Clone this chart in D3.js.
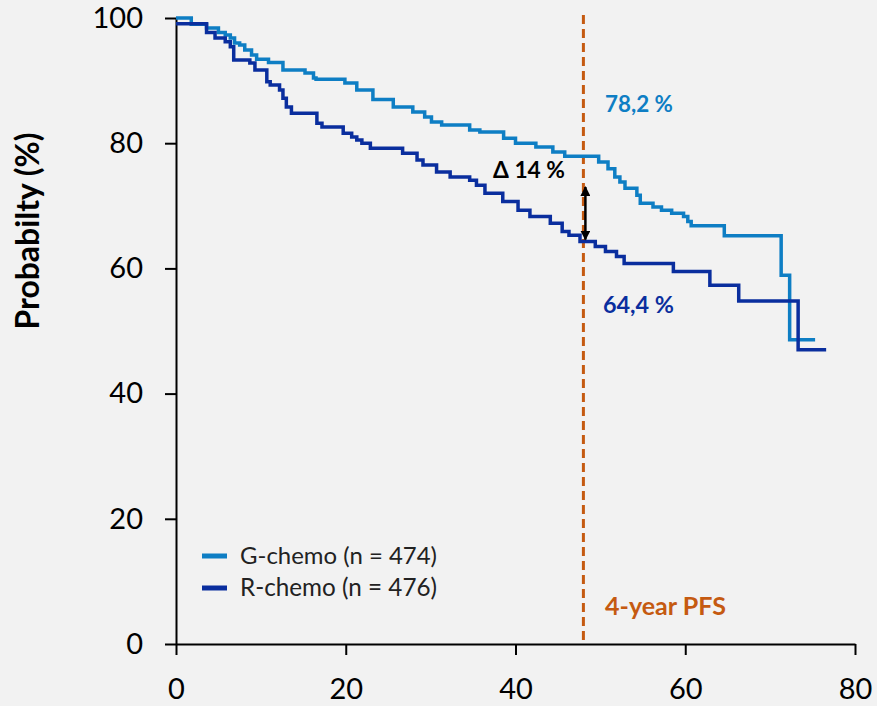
<!DOCTYPE html>
<html>
<head>
<meta charset="utf-8">
<script src="https://cdn.jsdelivr.net/npm/d3@7"></script>
<style>
  html, body { margin: 0; padding: 0; background: #F2F2F2; }
  svg { display: block; }
</style>
</head>
<body>
<script>
// ---- data ----
const gTime = [0, 1.8, 3.6, 5.0, 5.8, 6.4, 6.9, 7.5, 8.1, 8.9, 9.5, 10.9, 12.6, 15.2, 16.2, 16.5, 19.9, 21.3, 23.2, 25.6, 27.9, 29.3, 30.1, 31.3, 34.6, 35.8, 38.6, 40.0, 42.4, 44.4, 45.8, 49.8, 50.9, 51.7, 52.3, 52.9, 54.3, 54.7, 56.2, 57.2, 58.4, 59.8, 60.3, 60.7, 64.6, 71.3, 72.3, 75.3];
const gSurv = [100, 99.0, 98.4, 97.7, 97.3, 96.8, 96.0, 95.7, 94.9, 94.1, 93.4, 92.9, 91.7, 91.2, 90.4, 90.2, 89.6, 88.5, 87.0, 85.8, 85.0, 84.2, 83.4, 82.9, 82.1, 81.8, 80.8, 80.0, 79.4, 78.6, 77.9, 77.0, 75.9, 74.6, 73.8, 72.8, 71.7, 70.4, 69.8, 69.3, 68.8, 68.3, 67.5, 66.8, 65.2, 58.9, 48.6, 48.6];

const rTime = [0, 3.6, 4.6, 5.8, 6.4, 6.8, 8.7, 9.3, 10.7, 11.1, 12.2, 12.6, 13.0, 13.6, 16.6, 17.2, 19.7, 20.7, 21.3, 21.9, 22.9, 26.7, 28.4, 29.1, 30.7, 32.3, 34.6, 35.4, 36.4, 38.5, 40.3, 41.7, 44.1, 45.5, 46.3, 47.6, 49.4, 50.6, 51.9, 52.8, 58.6, 62.9, 66.3, 73.3, 76.6];
const rSurv = [99.1, 97.7, 96.8, 96.2, 95.4, 93.3, 92.8, 91.7, 89.8, 89.3, 88.5, 87.2, 85.8, 84.8, 83.2, 82.6, 81.6, 81.0, 80.5, 80.0, 79.2, 78.4, 77.3, 76.5, 75.4, 74.6, 74.1, 73.3, 72.0, 70.7, 69.3, 68.3, 67.2, 65.9, 65.3, 64.3, 63.5, 62.7, 61.9, 60.8, 59.5, 57.3, 54.8, 47.0, 47.0];

const seriesNames = ["G-chemo (n = 474)", "R-chemo (n = 476)"];
const xTicks = [0, 20, 40, 60, 80];
const yTicks = [0, 20, 40, 60, 80, 100];
const landmark = 48;               // months (4-year PFS)
const deltaLabel = "\u0394 14 %";
const gLabel = "78,2 %", rLabel = "64,4 %";
const pfsLabel = "4-year PFS";
const yTitle = "Probabilty (%)";

// ---- styles ----
const W = 877, H = 706;
const colG = "#0E7EC4", colR = "#0A2E9E", colOrange = "#C55A11";
const font = "Lato, 'Open Sans', sans-serif";

const svg = d3.select("body").append("svg").attr("width", W).attr("height", H)
  .style("background", "#F2F2F2");

svg.append("defs").append("marker")
  .attr("id", "ah").attr("viewBox", "0 0 10 10").attr("refX", 9).attr("refY", 5)
  .attr("markerWidth", 4).attr("markerHeight", 4).attr("orient", "auto-start-reverse")
  .append("path").attr("d", "M0,0 L10,5 L0,10 z").attr("fill", "#000");

const x = d3.scaleLinear().domain([0, 80]).range([176, 855]);
const y = d3.scaleLinear().domain([0, 100]).range([644, 18]);

function fitWidth(sel, w) {
  const cur = sel.node().getComputedTextLength();
  const fs = parseFloat(sel.attr("font-size"));
  if (cur > 0) sel.attr("font-size", (fs * w / cur).toFixed(2));
  return sel;
}

// axes
const yAxis = d3.axisLeft(y).tickValues(yTicks).tickSize(11).tickSizeOuter(0).tickPadding(22);
const xAxis = d3.axisBottom(x).tickValues(xTicks).tickSize(11).tickSizeOuter(0).tickPadding(23);

const gy = svg.append("g").attr("transform", `translate(${x(0)},0)`).call(yAxis);
const gx = svg.append("g").attr("transform", `translate(0,${y(0)})`).call(xAxis);
[gx, gy].forEach(g => {
  g.select(".domain").attr("stroke", "#000").attr("stroke-width", 2);
  g.selectAll(".tick line").attr("stroke", "#000").attr("stroke-width", 2);
  g.selectAll(".tick text").attr("fill", "#000").attr("font-family", font).attr("font-size", 29);
});

// landmark dashed line
svg.append("line")
  .attr("x1", x(landmark)).attr("x2", x(landmark))
  .attr("y1", y(100) - 3).attr("y2", y(0) - 3)
  .attr("stroke", colOrange).attr("stroke-width", 3).attr("stroke-dasharray", "9,5");

// curves
const line = d3.line().x(d => x(d[0])).y(d => y(d[1])).curve(d3.curveStepAfter);
const gData = gTime.map((t, i) => [t, gSurv[i]]);
const rData = rTime.map((t, i) => [t, rSurv[i]]);
svg.append("path").datum(gData).attr("d", line).attr("fill", "none")
  .attr("stroke", colG).attr("stroke-width", 3.5);
svg.append("path").datum(rData).attr("d", line).attr("fill", "none")
  .attr("stroke", colR).attr("stroke-width", 3.5);

// delta arrow
svg.append("line")
  .attr("x1", x(landmark) + 2).attr("x2", x(landmark) + 2)
  .attr("y1", y(73.0)).attr("y2", y(64.6))
  .attr("stroke", "#000").attr("stroke-width", 2.5)
  .attr("marker-start", "url(#ah)").attr("marker-end", "url(#ah)");

// annotations
fitWidth(svg.append("text").attr("x", 605).attr("y", 111.5).attr("font-family", font)
  .attr("font-weight", "bold").attr("font-size", 22).attr("fill", colG).text(gLabel), 68);
fitWidth(svg.append("text").attr("x", 603).attr("y", 313).attr("font-family", font)
  .attr("font-weight", "bold").attr("font-size", 22).attr("fill", colR).text(rLabel), 71);
fitWidth(svg.append("text").attr("x", 493).attr("y", 178).attr("font-family", font)
  .attr("font-weight", "bold").attr("font-size", 22).attr("fill", "#000").text(deltaLabel), 72);
fitWidth(svg.append("text").attr("x", 605).attr("y", 615).attr("font-family", font)
  .attr("font-weight", "bold").attr("font-size", 22).attr("fill", colOrange).text(pfsLabel), 121);

// y title
fitWidth(svg.append("text").attr("transform", "translate(39,231) rotate(-90)")
  .attr("text-anchor", "middle").attr("font-family", font).attr("font-weight", "bold")
  .attr("font-size", 22).attr("fill", "#000").text(yTitle), 197);

// legend
const legY = [556, 588];
const cols = [colG, colR];
seriesNames.forEach((name, i) => {
  svg.append("line").attr("x1", 202).attr("x2", 227).attr("y1", legY[i]).attr("y2", legY[i])
    .attr("stroke", cols[i]).attr("stroke-width", 5);
  fitWidth(svg.append("text").attr("x", 240).attr("y", legY[i] + 7.5)
    .attr("font-family", font).attr("font-size", 20).attr("fill", "#222").text(name), 197);
});
</script>
</body>
</html>
